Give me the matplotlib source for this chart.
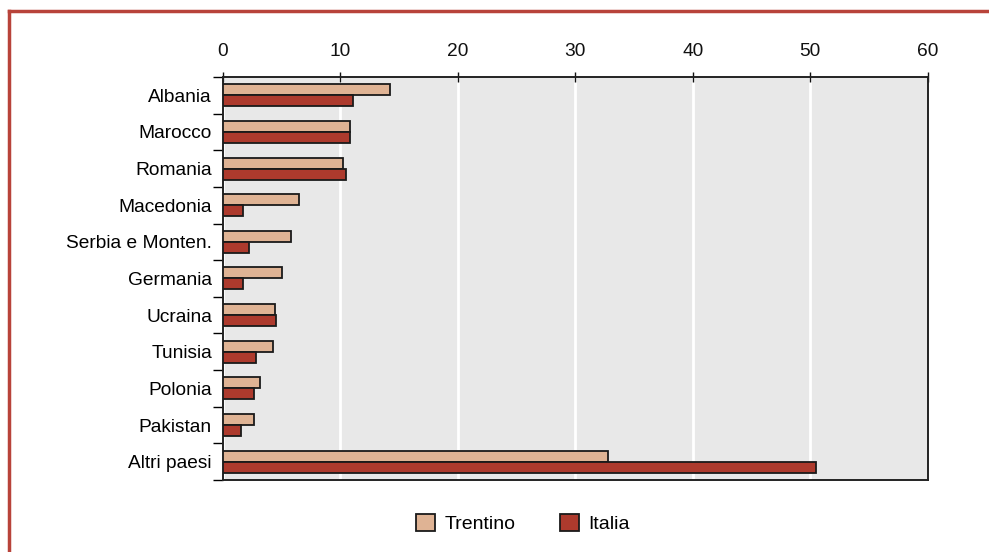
import numpy as np
import matplotlib.pyplot as plt
from matplotlib.lines import Line2D

paesi = ["Albania", "Marocco", "Romania", "Macedonia", "Serbia e Monten.",
         "Germania", "Ucraina", "Tunisia", "Polonia", "Pakistan", "Altri paesi"]
trentino = [14.2, 10.85, 10.25, 6.45, 5.8, 5.05, 4.4, 4.25, 3.15, 2.65, 32.8]
italia = [11.05, 10.85, 10.5, 1.7, 2.2, 1.7, 4.55, 2.8, 2.65, 1.55, 50.45]
ticks = [0, 10, 20, 30, 40, 50, 60]

plt.rcParams["font.family"] = ["Liberation Sans", "DejaVu Sans"]

fig = plt.figure(figsize=(9.89, 5.52), dpi=100)
ax = fig.add_axes([0.2255, 0.1304, 0.7125, 0.7302])

y = np.arange(len(paesi))
h = 0.3
ax.barh(y - h / 2, trentino, height=h, color="#dfb394", edgecolor="#1a1a1a",
        linewidth=1.3, label="Trentino", zorder=3)
ax.barh(y + h / 2, italia, height=h, color="#ad3a2d", edgecolor="#1a1a1a",
        linewidth=1.3, label="Italia", zorder=3)

ax.set_facecolor("#e8e8e8")
ax.set_xlim(0, 60)
ax.set_ylim(len(paesi) - 0.5, -0.5)
ax.set_xticks(ticks)
ax.xaxis.tick_top()
ax.tick_params(axis="x", direction="inout", length=7, width=1, labelsize=13.8,
               pad=8.5, colors="#111111")
ax.grid(axis="x", color="white", linewidth=2, zorder=1)

# category labels centered, ticks at the boundaries between categories
ax.set_yticks(y)
ax.set_yticklabels(paesi)
ax.tick_params(axis="y", length=0, labelsize=13.8, pad=8)
ax.set_yticks(np.arange(len(paesi) + 1) - 0.5, minor=True)
ax.tick_params(axis="y", which="minor", length=7, width=1)

for s in ax.spines.values():
    s.set_color("#222222")
    s.set_linewidth(1.4)

fig.legend(*ax.get_legend_handles_labels(), loc="center",
           bbox_to_anchor=(0.529, 0.051), ncol=2, frameon=False, fontsize=14,
           handlelength=0.95, handleheight=0.95, columnspacing=2.3,
           handletextpad=0.5)

# red frame on top and left of the figure
frame = "#b8433a"
fig.add_artist(Line2D([8.5 / 989, 1], [1 - 10.5 / 552] * 2, color=frame, lw=2.5,
                      transform=fig.transFigure))
fig.add_artist(Line2D([8.5 / 989] * 2, [0, 1 - 10.5 / 552], color=frame, lw=2.5,
                      transform=fig.transFigure))

fig.savefig("out.png", dpi=100)
